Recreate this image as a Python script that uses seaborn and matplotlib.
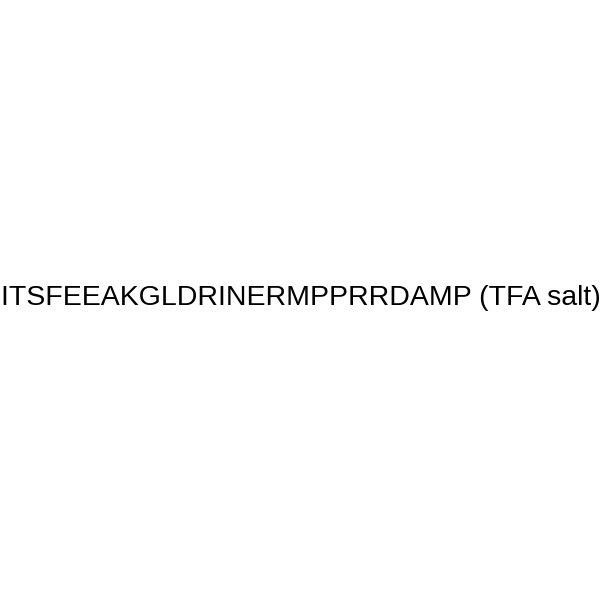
import matplotlib
matplotlib.use("Agg")
import matplotlib.pyplot as plt
import seaborn as sns

# chart content
label = "ITSFEEAKGLDRINERMPPRRDAMP (TFA salt)"
label_x = [0.501]
label_y = [0.503]

sns.set_theme(style="white")
plt.rcParams['font.family'] = ['Liberation Sans', 'DejaVu Sans']

fig = plt.figure(figsize=(6, 6), dpi=100)
ax = fig.add_axes([0, 0, 1, 1])
ax.set_xlim(0, 1)
ax.set_ylim(0, 1)
ax.axis("off")

ax.text(label_x[0], label_y[0], label, ha="center", va="center",
        fontsize=20.5, color="black")

fig.savefig("out.png", dpi=100, facecolor="white")
plt.close(fig)
